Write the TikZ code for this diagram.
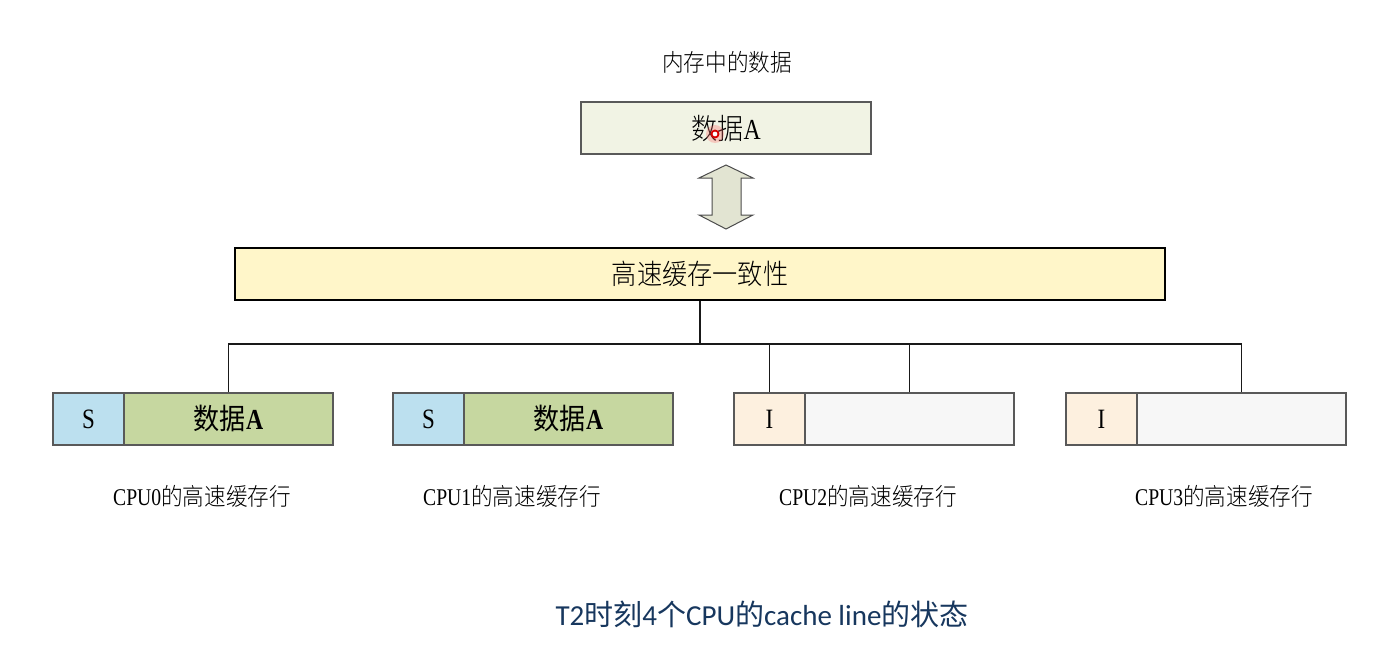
\documentclass[tikz,border=0pt]{standalone}
\usepackage{fontspec}
\setmainfont[FakeStretch=0.82]{Liberation Serif}
\newfontfamily\cjk[FakeStretch=0.9]{Noto Sans CJK SC}
\newfontfamily\cjkl[FakeStretch=0.9]{Noto Sans CJK SC Light}
\newfontfamily\titlefont{Carlito}
\newfontfamily\titlecjk{Noto Sans CJK SC}
\begin{document}
\begin{tikzpicture}[x=1pt,y=-1pt,
  box/.style={draw=black!65, line width=1.1pt, minimum height=52pt, inner sep=0pt, anchor=center},
  conn/.style={draw=black!90, line width=1.3pt},
  lbl/.style={font=\fontsize{24}{28}\selectfont, inner sep=0pt, anchor=center},
  big/.style={font=\fontsize{29}{33}\selectfont},
  state/.style={font=\fontsize{28}{32}\selectfont}]
\useasboundingbox (0,0) rectangle (1387,666);
\fill[white] (0,0) rectangle (1387,666);
\definecolor{memfill}{HTML}{F1F3E4}
\definecolor{cohfill}{HTML}{FFF6C9}
\definecolor{sfill}{HTML}{BCE0EF}
\definecolor{dfill}{HTML}{C6D7A0}
\definecolor{ifill}{HTML}{FDF0DF}
\definecolor{efill}{HTML}{F7F7F7}
\definecolor{arrfill}{HTML}{E2E4D2}
\definecolor{titleblue}{HTML}{17375E}

% memory
\node[lbl] (memlbl) at (727,62) {\cjkl 内存中的数据};
\node[box, big, fill=memfill, minimum width=290pt] (mem) at (726,128) {\cjkl 数据\rmfamily A};

% double arrow
\coordinate (at) at (726,165);
\coordinate (ab) at (726,229);
\filldraw[fill=arrfill, draw=black!70, line width=1pt, line join=miter]
  (at) -- ++(27,13) -- ++(-12,0) -- ++(0,37) -- ++(12,0) -- (ab) -- ++(-27,-14)
  -- ++(13,0) -- ++(0,-37) -- ++(-13,0) -- cycle;

% coherence box
\node[draw=black, line width=2pt, fill=cohfill, minimum width=930pt, minimum height=52pt, inner sep=0pt,
  font=\fontsize{28}{32}\selectfont] (coh) at (700,274) {\cjkl 高速缓存一致性};

% cache lines
\node[box, state, fill=sfill, minimum width=71pt] (c0s) at (88.5,419) {S};
\node[box, big, fill=dfill, minimum width=209pt] (c0d) at (228.5,419) {\cjk 数据\rmfamily\bfseries A};
\node[box, state, fill=sfill, minimum width=71pt] (c1s) at (428.5,419) {S};
\node[box, big, fill=dfill, minimum width=209pt] (c1d) at (568.5,419) {\cjk 数据\rmfamily\bfseries A};
\node[box, state, fill=ifill, minimum width=71pt] (c2s) at (769.5,419) {I};
\node[box, fill=efill, minimum width=209pt] (c2d) at (909.5,419) {};
\node[box, state, fill=ifill, minimum width=71pt] (c3s) at (1101.5,419) {I};
\node[box, fill=efill, minimum width=209pt] (c3d) at (1241.5,419) {};

% labels
\node[lbl] (l0) at (202,496) {CPU0{\cjkl 的高速缓存行}};
\node[lbl] (l1) at (512,496) {CPU1{\cjkl 的高速缓存行}};
\node[lbl] (l2) at (868,496) {CPU2{\cjkl 的高速缓存行}};
\node[lbl] (l3) at (1224,496) {CPU3{\cjkl 的高速缓存行}};

% connectors
\coordinate (j) at (700,344);
\draw[conn, line width=1.8pt] (coh.south) -- (j);
\draw[conn] (c0d.north) |- (c3d.north |- j) -- (c3d.north);
\draw[conn] (c2s.north) -- (c2s.north |- j);
\draw[conn] (c2d.north) -- (c2d.north |- j);

% pointer dot
\fill[red!60, opacity=0.3] (715,134) circle (9pt);
\filldraw[fill=white, draw=red!85!black, line width=1.8pt] (715,134) circle (3.5pt);

% title
\node[inner sep=0pt, text=titleblue, font=\titlefont\fontsize{29}{34}\selectfont] (title) at (762,614)
  {T2{\titlecjk 时刻}4{\titlecjk 个}CPU{\titlecjk 的}cache line{\titlecjk 的状态}};
\end{tikzpicture}
\end{document}
